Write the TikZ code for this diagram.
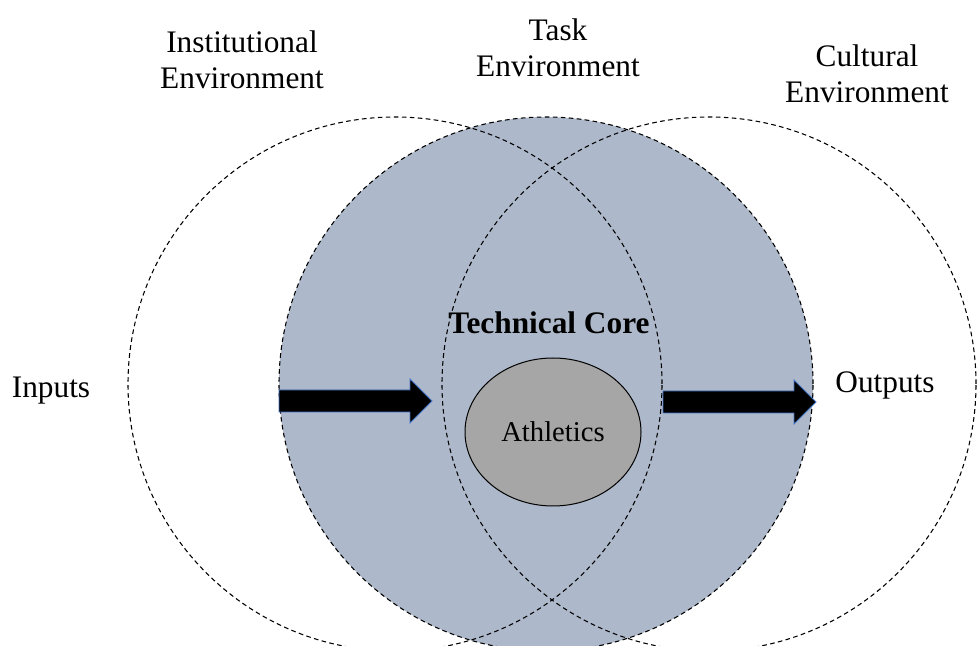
\documentclass[tikz,border=0pt]{standalone}
\usepackage{fontspec}
\setmainfont{Liberation Serif}
\usetikzlibrary{shapes}
\definecolor{taskblue}{HTML}{ADB9CA}
\definecolor{coregray}{HTML}{A6A6A6}
\definecolor{edgeblue}{HTML}{4472C4}
\newcommand\fatarrow[1]{% shaft length
+(0,11) -- +(#1,11) -- +(#1,22) -- +(#1+22,0) -- +(#1,-22) -- +(#1,-11) -- +(0,-11) -- cycle
}

\begin{document}
\begin{tikzpicture}[x=0.75pt,y=0.75pt]
    \fontsize{23.5}{27}\selectfont
    \useasboundingbox (0,0) rectangle (978,646);
    \fill[taskblue] (546,262) circle (267);
    \foreach \x/\k in {395/inst,546/task,709/cult} {
        \coordinate (c\k) at (\x,262);
        \draw[dash pattern=on 3.5pt off 2.5pt, line width=0.8pt] (c\k) circle (267);
    }

    \foreach \x/\y/\t/\k in {242/586/{Institutional\\Environment}/inst,
        558/598/{Task\\Environment}/task,867/572/{Cultural\\Environment}/cult}
        \node[align=center] (l\k) at (\x,\y) {\t};
    \node (inputs) at (51,255) {Inputs};
    \node (outputs) at (885,261) {Outputs};
    \node[font=\fontsize{23.5}{27}\bfseries] (core) at (549,323) {Technical Core};
    \node[ellipse, draw, fill=coregray, line width=0.75pt, minimum width=132pt,
        minimum height=111pt, inner sep=0pt, font=\fontsize{21.5}{25}\selectfont]
        (ath) at (553,214) {\raisebox{-3pt}{Athletics}};

    \coordinate (inA) at (279,245);
    \coordinate (outA) at (663,244);
    \draw[edgeblue, fill=black, line width=0.6pt] (inA) \fatarrow{131};
    \draw[edgeblue, fill=black, line width=0.6pt] (outA) \fatarrow{131};
\end{tikzpicture}
\end{document}
